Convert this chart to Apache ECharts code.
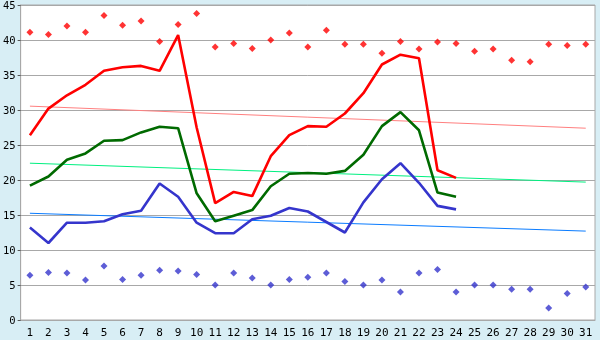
<!DOCTYPE html>
<html>
<head>
<meta charset="utf-8">
<script src="https://cdn.jsdelivr.net/npm/echarts@6/dist/echarts.min.js"></script>
<style>
  html, body { margin: 0; padding: 0; background: #d8eef5; }
  #chart { width: 600px; height: 340px; }
</style>
</head>
<body>
<div id="chart"></div>
<script>
// Days of the month
const days = ['1','2','3','4','5','6','7','8','9','10','11','12','13','14','15','16',
  '17','18','19','20','21','22','23','24','25','26','27','28','29','30','31'];

// Daily highest readings (diamonds, top row)
const dailyHigh = [41.1, 40.8, 42.0, 41.1, 43.5, 42.1, 42.7, 39.8, 42.2, 43.8,
  39.0, 39.5, 38.8, 40.0, 41.0, 39.0, 41.4, 39.4, 39.4, 38.1,
  39.8, 38.7, 39.7, 39.5, 38.4, 38.7, 37.1, 36.9, 39.4, 39.2, 39.4];

// Daily lowest readings (diamonds, bottom row)
const dailyLow = [6.4, 6.8, 6.7, 5.7, 7.7, 5.8, 6.4, 7.1, 7.0, 6.5,
  5.0, 6.7, 6.0, 5.0, 5.8, 6.1, 6.7, 5.5, 5.0, 5.7,
  4.0, 6.7, 7.2, 4.0, 5.0, 5.0, 4.4, 4.4, 1.7, 3.8, 4.7];

// Measured curves for the current month (days 1–24)
const maxCurve = [26.4, 30.2, 32.1, 33.6, 35.6, 36.1, 36.3, 35.6, 40.7, 27.5,
  16.7, 18.3, 17.7, 23.4, 26.4, 27.7, 27.6, 29.5, 32.4, 36.5,
  37.9, 37.4, 21.4, 20.3, null, null, null, null, null, null, null];
const meanCurve = [19.2, 20.5, 22.9, 23.8, 25.6, 25.7, 26.8, 27.6, 27.4, 18.1,
  14.1, 14.9, 15.7, 19.1, 20.9, 21.0, 20.9, 21.3, 23.6, 27.7,
  29.7, 27.1, 18.2, 17.6, null, null, null, null, null, null, null];
const minCurve = [13.2, 11.0, 13.9, 13.9, 14.1, 15.1, 15.6, 19.5, 17.6, 13.9,
  12.4, 12.4, 14.4, 14.9, 16.0, 15.5, 14.0, 12.5, 16.8, 20.1,
  22.4, 19.6, 16.3, 15.8, null, null, null, null, null, null, null];

// Straight reference lines across the month: [first day, last day]
const maxTrendEnds = [30.55, 27.4];
const meanTrendEnds = [22.4, 19.7];
const minTrendEnds = [15.25, 12.7];

const yTicks = { min: 0, max: 45, step: 5 };

function endsToSeries(ends) {
  const arr = days.map(() => null);
  arr[0] = ends[0];
  arr[days.length - 1] = ends[1];
  return arr;
}

const gridGray = '#a8a8a8';
const labelFont = { fontFamily: 'DejaVu Sans Mono', color: '#000' };

const chart = echarts.init(document.getElementById('chart'), null, { renderer: 'canvas' });

function trend(data, color) {
  return {
    type: 'line', data: endsToSeries(data), connectNulls: true,
    showSymbol: false, symbol: 'none', silent: true, z: 1,
    lineStyle: { color: color, width: 1 }
  };
}
function curve(data, color) {
  return {
    type: 'line', data: data, showSymbol: false, symbol: 'none', z: 3,
    lineStyle: { color: color, width: 2.6 }
  };
}
function dots(data, color) {
  return {
    type: 'scatter', data: data, symbol: 'diamond', symbolSize: 7, z: 4,
    itemStyle: { color: color }
  };
}

chart.setOption({
  animation: false,
  backgroundColor: '#d8eef5',
  grid: {
    left: 20, right: 5, top: 5, bottom: 20,
    show: true, backgroundColor: '#ffffff', borderColor: gridGray, borderWidth: 1
  },
  xAxis: {
    type: 'category', data: days, boundaryGap: true,
    axisLine: { lineStyle: { color: gridGray, width: 1 } },
    axisTick: { alignWithLabel: true, length: 5, lineStyle: { color: '#555' } },
    axisLabel: Object.assign({ margin: 8, interval: 0, fontSize: 11 }, labelFont),
    splitLine: { show: false }
  },
  yAxis: {
    type: 'value', min: yTicks.min, max: yTicks.max, interval: yTicks.step,
    axisLine: { show: true, lineStyle: { color: gridGray, width: 1 } },
    axisTick: { show: true, length: 3, lineStyle: { color: '#555' } },
    axisLabel: {
      margin: 5,
      formatter: '{v|{value}}',
      rich: { v: Object.assign({ fontSize: 10.5, padding: [3, 0, 0, 0] }, labelFont) }
    },
    splitLine: { show: true, lineStyle: { color: gridGray, width: 1 } }
  },
  series: [
    trend(maxTrendEnds, '#ff8080'),
    trend(meanTrendEnds, '#00f080'),
    trend(minTrendEnds, '#0a7cff'),
    curve(maxCurve, '#ff0000'),
    curve(meanCurve, '#006a00'),
    curve(minCurve, '#3535cc'),
    dots(dailyHigh, '#ff0000'),
    dots(dailyLow, '#3535cc')
  ]
});
</script>
</body>
</html>
